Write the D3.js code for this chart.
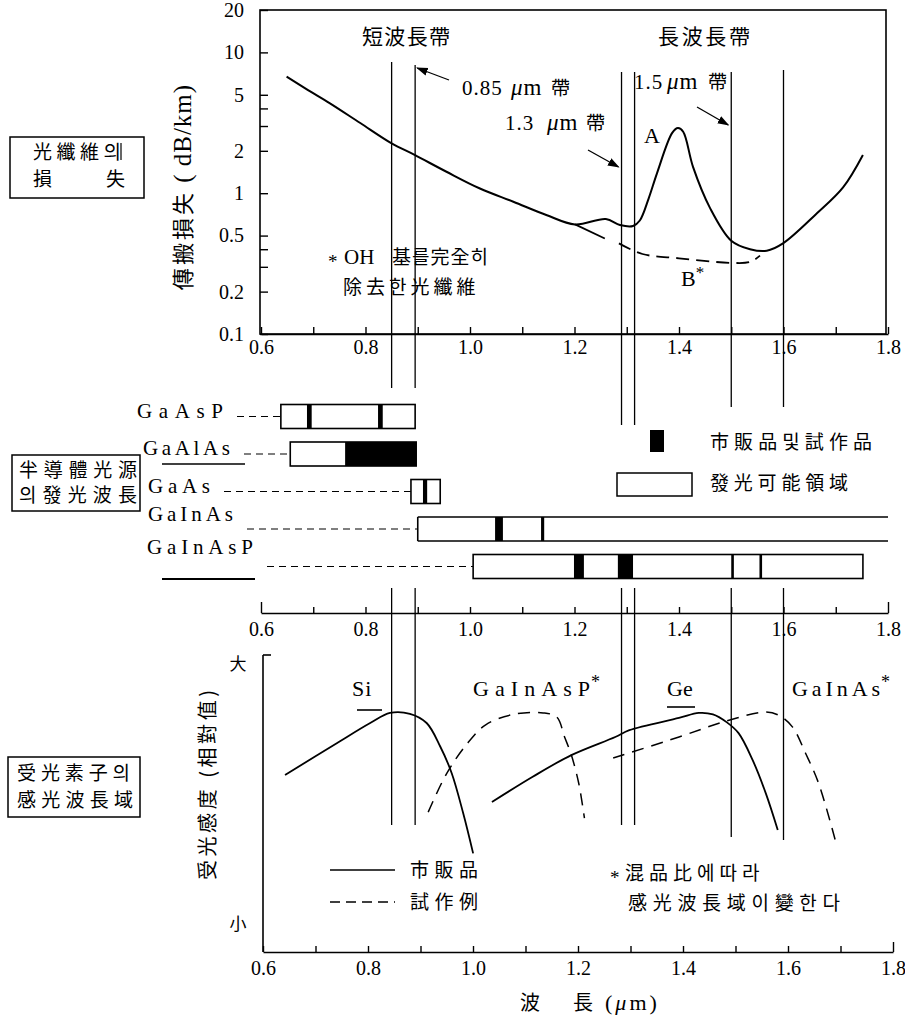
<!DOCTYPE html>
<html><head><meta charset="utf-8">
<script src="https://cdn.jsdelivr.net/npm/d3@7"></script>
<style>body{margin:0;background:#fff}svg{display:block}</style>
</head><body>
<svg id="c" width="905" height="1015"></svg>
<script>
// ---------------- DATA ----------------
const xTickValues = [0.6,0.7,0.8,0.9,1.0,1.1,1.2,1.3,1.4,1.5,1.6,1.7,1.8];
const xMajorTicks = [0.6,0.8,1.0,1.2,1.4,1.6,1.8];
const xTickLabels = ["0.6","0.8","1.0","1.2","1.4","1.6","1.8"];
const lossTickValues = [20,10,5,2,1,0.5,0.2,0.1];
const lossTickLabels = ["20","10","5","2","1","0.5","0.2","0.1"];
const lossMinorTicks = [4,3,0.4,0.3];
const bandLines = [0.85,0.895,1.29,1.315,1.5,1.6];

// fiber loss curve A (dB/km)
const lossA = [[0.649,6.72],[0.69,5.4],[0.732,4.35],[0.79,3.15],[0.850,2.26],[0.894,1.87],
  [0.955,1.42],[1.019,1.08],[1.083,0.87],[1.146,0.70],[1.201,0.60],[1.260,0.655],[1.287,0.594],
  [1.312,0.585],[1.325,0.64],[1.342,0.92],[1.358,1.39],[1.387,2.68],[1.398,2.9],[1.408,2.73],
  [1.427,1.53],[1.459,0.79],[1.50,0.46],[1.536,0.40],[1.568,0.39],[1.599,0.44],[1.664,0.72],
  [1.714,1.10],[1.752,1.87]];
// fiber loss curve B* (OH removed)
const lossBSolid = [[1.201,0.60],[1.258,0.477]];
const lossBDashed = [[1.285,0.44],[1.33,0.37],[1.40,0.345],[1.50,0.32],[1.536,0.325],[1.555,0.36]];

// semiconductor light sources
const sources = ["GaAsP","GaAlAs","GaAs","GaInAs","GaInAsP"];
const emitRanges = [[0.638,0.895],[0.656,0.897],[0.887,0.943],[0.900,1.8],[1.006,1.752]];
const productRanges = [
  [[0.688,0.697],[0.824,0.833]],
  [[0.761,0.897]],
  [[0.910,0.918]],
  [[1.048,1.063],[1.136,1.142]],
  [[1.199,1.218],[1.283,1.312],[1.500,1.505],[1.554,1.559]]
];

// photodetector relative response
const siResp = [[0.646,0.596],[0.745,0.703],[0.809,0.771],[0.847,0.805],[0.885,0.802],
  [0.917,0.771],[0.943,0.692],[0.965,0.602],[0.987,0.467],[1.006,0.332]];
const gainaspResp = [[0.92,0.471],[0.955,0.60],[0.994,0.70],[1.030,0.765],[1.083,0.80],
  [1.14,0.805],[1.166,0.791],[1.181,0.724],[1.194,0.663],[1.208,0.569],[1.219,0.451]];
const geResp = [[1.042,0.505],[1.12,0.59],[1.194,0.663],[1.278,0.724],[1.305,0.747],[1.40,0.788],
  [1.438,0.805],[1.465,0.80],[1.491,0.774],[1.514,0.737],[1.541,0.646],[1.566,0.535],[1.589,0.411]];
const gainasResp = [[1.274,0.653],[1.40,0.724],[1.491,0.778],[1.566,0.808],[1.59,0.798],
  [1.617,0.758],[1.642,0.670],[1.667,0.569],[1.699,0.377]];

// ---------------- DRAW ----------------
const svg = d3.select("#c");
svg.append("rect").attr("width",905).attr("height",1015).attr("fill","#fff");
const SERIF = "'Liberation Serif','DejaVu Serif','Noto Sans CJK KR',serif";
const CJK = "'Noto Sans CJK KR','Noto Sans CJK JP',sans-serif";

const x = d3.scaleLinear().domain([0.6,1.8]).range([261,888]);
const yLoss = d3.scaleLog().domain([0.1,20]).range([334,10]);
const yResp = d3.scaleLinear().domain([0,1]).range([952,655]);
const yRow = d3.scalePoint().domain(sources).range([416.5,566.5]);

const defs = svg.append("defs");
defs.append("marker").attr("id","arr").attr("viewBox","0 0 10 10").attr("refX",9).attr("refY",5)
  .attr("markerWidth",9).attr("markerHeight",9).attr("orient","auto")
  .append("path").attr("d","M0,1.5 L10,5 L0,8.5 z").attr("fill","#000");

function txt(t, px, py, size, fam, opts={}) {
  const e = svg.append("text").attr("x",px).attr("y",py).attr("font-size",size)
    .attr("font-family",fam).attr("fill","#000").text(t);
  if (opts.anchor) e.attr("text-anchor",opts.anchor);
  if (opts.len) e.attr("textLength",opts.len).attr("lengthAdjust","spacing");
  if (opts.ls) e.attr("letter-spacing",opts.ls);
  if (opts.rot) e.attr("transform",`rotate(${opts.rot},${px},${py})`);
  return e;
}
function umBand(num, px, py, muX, bandX){
  txt(num,px,py,21,SERIF,{ls:1});
  const t = svg.append("text").attr("x",muX).attr("y",py).attr("font-size",23).attr("font-family",SERIF).attr("letter-spacing",1);
  t.append("tspan").attr("font-style","italic").text("μ");
  t.append("tspan").text("m");
  txt("帶",bandX,py,19,CJK);
}
function seg(x1,y1,x2,y2,w=1.3,dash=null){
  const l = svg.append("line").attr("x1",x1).attr("y1",y1).attr("x2",x2).attr("y2",y2)
    .attr("stroke","#000").attr("stroke-width",w);
  if (dash) l.attr("stroke-dasharray",dash);
  return l;
}
function styleAxis(g){
  g.select(".domain").attr("stroke","#000").attr("stroke-width",1.6);
  g.selectAll(".tick line").attr("stroke","#000").attr("stroke-width",1.4);
  g.selectAll(".tick text").attr("font-family",SERIF).attr("font-size",20).attr("fill","#000");
}
const fmtX = d => { const i = xMajorTicks.findIndex(v=>Math.abs(v-d)<1e-6); return i>=0 ? xTickLabels[i] : ""; };

// ===== vertical band lines =====
const lineTop = [62,65,72,72,72,70];
const breakTop = [388,388,425,425,407,407];
const lineBot = [825,825,825,825,837,840];
bandLines.forEach((v,i)=>{
  seg(x(v),lineTop[i],x(v),breakTop[i],1.3);
  seg(x(v),588,x(v),lineBot[i],1.3);
});

// ===== TOP PANEL =====
svg.append("rect").attr("x",260).attr("y",10).attr("width",626).attr("height",324)
  .attr("fill","none").attr("stroke","#000").attr("stroke-width",1.6);
const gxTop = svg.append("g").attr("transform","translate(0,334)")
  .call(d3.axisBottom(x).tickValues(xTickValues).tickFormat(fmtX).tickSizeInner(-7).tickSizeOuter(0).tickPadding(6));
styleAxis(gxTop);
const gyTop = svg.append("g").attr("transform","translate(260,0)")
  .call(d3.axisLeft(yLoss).tickValues(lossTickValues.concat(lossMinorTicks))
    .tickFormat(d=>{const i=lossTickValues.indexOf(d); return i>=0?lossTickLabels[i]:"";})
    .tickSizeInner(-8).tickSizeOuter(0).tickPadding(16));
styleAxis(gyTop);
gyTop.select(".domain").remove();

const lineLoss = d3.line().x(d=>x(d[0])).y(d=>yLoss(d[1])).curve(d3.curveCatmullRom.alpha(0.5));
svg.append("path").attr("d",lineLoss(lossA)).attr("fill","none").attr("stroke","#000").attr("stroke-width",2);
svg.append("path").attr("d",d3.line().x(d=>x(d[0])).y(d=>yLoss(d[1]))(lossBSolid)).attr("fill","none").attr("stroke","#000").attr("stroke-width",1.8);
svg.append("path").attr("d",lineLoss(lossBDashed)).attr("fill","none").attr("stroke","#000").attr("stroke-width",1.8).attr("stroke-dasharray","13,7");

{
  const t = svg.append("text").attr("x",191).attr("y",187).attr("text-anchor","middle")
    .attr("transform","rotate(-90,191,187)").attr("fill","#000");
  t.append("tspan").attr("font-family",CJK).attr("font-size",22).attr("letter-spacing",3).text("傳搬損失");
  t.append("tspan").attr("font-family",SERIF).attr("font-size",25).attr("letter-spacing",1).text(" ( dB/km)");
}
txt("短波長帶",406,44,21,CJK,{anchor:"middle",len:88});
txt("長波長帶",704,44,21,CJK,{anchor:"middle",len:92});
umBand("0.85",462,95,511,551);
umBand("1.3",505,130,547,586);
umBand("1.5",634,89,667,708);
txt("A",652,143,22,SERIF,{anchor:"middle"});
const bt = txt("B",681,286,22,SERIF); bt.append("tspan").attr("dy",-8).attr("font-size",17).text("*");
txt("*",328,268,19,SERIF);
txt("OH",344,264,21,SERIF);
txt("基를完全히",392,264,19,CJK,{ls:1});
txt("除去한光纖維",343,294,19,CJK,{ls:4});
seg(449,80,x(0.895)+2,68,1.3).attr("marker-end","url(#arr)");
seg(588,150,x(1.29)-3,167,1.3).attr("marker-end","url(#arr)");
seg(697,107,x(1.5)-3,125,1.3).attr("marker-end","url(#arr)");

// left box 1
svg.append("rect").attr("x",10).attr("y",137).attr("width",134).attr("height",61).attr("fill","none").attr("stroke","#000").attr("stroke-width",1.5);
txt("光纖維의",33,159,19,CJK,{len:88});
txt("損",33,186,19,CJK);
txt("失",106,186,19,CJK);
seg(121,143,121,160,1.2);

// ===== MIDDLE PANEL =====
const gxMid = svg.append("g").attr("transform","translate(0,613)")
  .call(d3.axisBottom(x).tickValues(xTickValues).tickFormat(fmtX).tickSizeInner(-6).tickSizeOuter(0).tickPadding(9));
styleAxis(gxMid);
gxMid.selectAll(".tick line").filter(d=>d===0.6||d===1.8).attr("y2",-11);

const barH = 24;
const labelLen = [86,87,62,85,106];
const labelLift = [0,0,0,9,14];
sources.forEach((s,i)=>{
  const cy = yRow(s);
  const r = emitRanges[i];
  const t = txt(s,[137,143,148,148,147][i],cy-labelLift[i]+1,21,SERIF,{len:labelLen[i]});
  const bb = t.node().getBBox();
  seg(bb.x+bb.width+14,cy,x(r[0]),cy,1.2,"7,5");
  if (r[1] >= 1.8) {
    seg(x(r[0]),cy-barH/2,x(r[1]),cy-barH/2,1.6);
    seg(x(r[0]),cy+barH/2,x(r[1]),cy+barH/2,1.6);
    seg(x(r[0]),cy-barH/2,x(r[0]),cy+barH/2,1.6);
  } else {
    svg.append("rect").attr("x",x(r[0])).attr("y",cy-barH/2).attr("width",x(r[1])-x(r[0])).attr("height",barH)
      .attr("fill","#fff").attr("stroke","#000").attr("stroke-width",1.6);
  }
  productRanges[i].forEach(p=>{
    svg.append("rect").attr("x",x(p[0])).attr("y",cy-barH/2).attr("width",Math.max(2.5,x(p[1])-x(p[0]))).attr("height",barH).attr("fill","#000");
  });
});
seg(162,464,245,464,1.5);
seg(162,579,255,579,2);

// legend middle
svg.append("rect").attr("x",650).attr("y",430).attr("width",14).attr("height",22).attr("fill","#000");
txt("市販品및試作品",710,449,19,CJK,{len:162});
svg.append("rect").attr("x",617).attr("y",473).attr("width",75).attr("height",23).attr("fill","none").attr("stroke","#000").attr("stroke-width",1.5);
txt("發光可能領域",710,490,19,CJK,{len:138});

// left box 2
svg.append("rect").attr("x",12).attr("y",455).attr("width",128).attr("height",56).attr("fill","none").attr("stroke","#000").attr("stroke-width",1.5);
txt("半導體光源",19,477,19,CJK,{len:118});
txt("의發光波長",19,502,19,CJK,{len:118});

// ===== BOTTOM PANEL =====
const gxBot = svg.append("g").attr("transform","translate(0,952)")
  .call(d3.axisBottom(x.copy().range([263,893])).tickValues(xTickValues).tickFormat(fmtX).tickSizeInner(-6).tickSizeOuter(0).tickPadding(9));
styleAxis(gxBot);
gxBot.selectAll(".tick line").filter(d=>d===1.8).attr("y2",-10);
seg(263,655,263,952,1.6);
seg(263,655,271,655,1.6);
txt("大",238,670,17,CJK,{anchor:"middle"});
txt("小",238,930,17,CJK,{anchor:"middle"});
txt("受光感度 (相對值)",215,785,20,CJK,{anchor:"middle",rot:-90,len:190});
txt("波",520,1010,20,CJK);
txt("長",573,1010,20,CJK);
{
  const t = svg.append("text").attr("x",605).attr("y",1010).attr("font-size",22).attr("font-family",SERIF).attr("letter-spacing",3).attr("fill","#000");
  t.append("tspan").text("(");
  t.append("tspan").attr("font-style","italic").text("μ");
  t.append("tspan").text("m)");
}

const lineResp = d3.line().x(d=>x(d[0])).y(d=>yResp(d[1])).curve(d3.curveCatmullRom.alpha(0.5));
svg.append("path").attr("d",lineResp(siResp)).attr("fill","none").attr("stroke","#000").attr("stroke-width",1.8);
svg.append("path").attr("d",lineResp(geResp)).attr("fill","none").attr("stroke","#000").attr("stroke-width",1.8);
svg.append("path").attr("d",lineResp(gainaspResp)).attr("fill","none").attr("stroke","#000").attr("stroke-width",1.5).attr("stroke-dasharray","12,8");
svg.append("path").attr("d",lineResp(gainasResp)).attr("fill","none").attr("stroke","#000").attr("stroke-width",1.5).attr("stroke-dasharray","12,8");

txt("Si",352,696,22,SERIF,{ls:1});
seg(357,710,382,710,1.6);
txt("GaInAsP",473,696,22,SERIF,{len:117});
txt("*",591,688,18,SERIF);
txt("Ge",667,696,22,SERIF);
seg(667,707,695,707,1.6);
txt("GaInAs",792,696,22,SERIF,{len:88});
txt("*",881,688,18,SERIF);

seg(330,870,395,870,1.5);
txt("市販品",410,877,19,CJK,{len:68});
seg(330,902,395,902,1.5,"10,6");
txt("試作例",410,909,19,CJK,{len:68});
txt("*",610,884,19,SERIF);
txt("混品比에따라",625,880,19,CJK,{ls:5});
txt("感光波長域이變한다",628,910,19,CJK,{len:212});

// left box 3
svg.append("rect").attr("x",8).attr("y",757).attr("width",132).attr("height",60).attr("fill","none").attr("stroke","#000").attr("stroke-width",1.5);
txt("受光素子의",17,780,19,CJK,{len:113});
txt("感光波長域",17,807,19,CJK,{len:116});
</script>
</body></html>
